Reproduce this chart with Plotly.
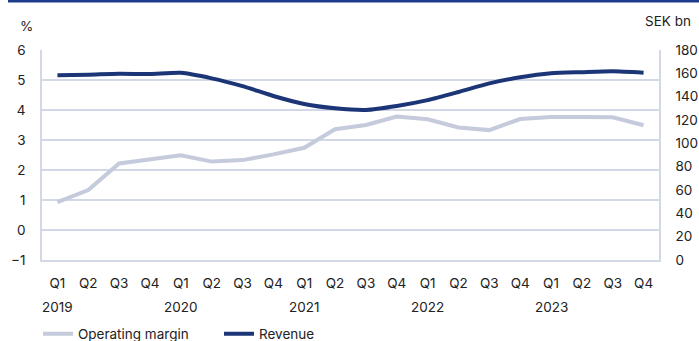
import plotly.graph_objects as go

quarters = ["Q1", "Q2", "Q3", "Q4"] * 5
years = ["2019", "2020", "2021", "2022", "2023"]

# Operating margin, % (left axis)
operating_margin = [0.93, 1.33, 2.22, 2.36, 2.49, 2.28, 2.33, 2.52, 2.74, 3.36,
                    3.50, 3.78, 3.69, 3.42, 3.33, 3.70, 3.77, 3.77, 3.76, 3.49]
# Revenue, SEK bn (right axis)
revenue = [158.3, 158.8, 159.6, 159.4, 160.4, 155.7, 149.0, 140.6, 133.7, 130.0,
           128.6, 132.0, 137.0, 144.0, 151.4, 156.6, 160.0, 161.0, 161.8, 160.6]

x = list(range(len(quarters)))

NAVY = "#1b3577"
LIGHT = "#c5cbdc"
GRID = "#d3d8e6"
TEXT = "#222222"
FONT = "Inter"
FS = 13.5

fig = go.Figure()
fig.add_trace(go.Scatter(
    x=x, y=operating_margin, name="Operating margin", mode="lines",
    line=dict(color=LIGHT, width=4), yaxis="y"))
fig.add_trace(go.Scatter(
    x=x, y=revenue, name="Revenue", mode="lines",
    line=dict(color=NAVY, width=4, shape="spline", smoothing=0.6), yaxis="y2"))

W, H = 699, 341
ml, mr, mt, mb = 42, 40, 50, 81
pw, ph = W - ml - mr, H - mt - mb

def px_to_paper_x(px):
    return (px - ml) / pw

def px_to_paper_y(py):
    return (H - mb - py) / ph

annotations = []
for i, yr in enumerate(years):
    annotations.append(dict(
        x=i * 4, y=px_to_paper_y(307), xref="x", yref="paper", text=yr,
        showarrow=False, font=dict(size=FS, color=TEXT, family=FONT),
        xanchor="center", yanchor="middle"))
annotations.append(dict(
    x=px_to_paper_x(26), y=px_to_paper_y(26), xref="paper", yref="paper", text="%",
    showarrow=False, font=dict(size=FS, color=TEXT, family=FONT),
    xanchor="center", yanchor="middle"))
annotations.append(dict(
    x=px_to_paper_x(693), y=px_to_paper_y(21), xref="paper", yref="paper", text="SEK bn",
    showarrow=False, font=dict(size=FS, color=TEXT, family=FONT),
    xanchor="right", yanchor="middle"))

fig.update_layout(
    width=W, height=H,
    margin=dict(l=ml, r=mr, t=mt, b=mb, autoexpand=False),
    paper_bgcolor="white", plot_bgcolor="white",
    font=dict(family=FONT, size=FS, color=TEXT),
    showlegend=True,
    legend=dict(orientation="h", x=px_to_paper_x(38), y=px_to_paper_y(334),
                xanchor="left", yanchor="middle", font=dict(size=FS, color=TEXT),
                entrywidth=136, entrywidthmode="pixels",
                itemwidth=30, tracegroupgap=0, bgcolor="rgba(0,0,0,0)"),
    xaxis=dict(range=[-0.5, 19.5], tickmode="array", tickvals=x, ticktext=quarters,
               showgrid=False, zeroline=False, showline=True, linecolor=GRID, linewidth=1.5,
               ticks="outside", ticklen=10, tickcolor="rgba(0,0,0,0)",
               tickfont=dict(size=FS, color=TEXT), fixedrange=True, automargin=False),
    yaxis=dict(range=[-1, 6], dtick=1, showgrid=True, gridcolor=GRID, gridwidth=1.5,
               zeroline=False, showline=True, linecolor=GRID, linewidth=1.5,
               ticks="outside", ticklen=12, tickcolor="rgba(0,0,0,0)",
               tickfont=dict(size=FS, color=TEXT), automargin=False),
    yaxis2=dict(range=[0, 180], dtick=20, overlaying="y", side="right",
                showgrid=False, zeroline=False, showline=True, linecolor=GRID, linewidth=1.5,
                ticks="outside", ticklen=12, tickcolor="rgba(0,0,0,0)",
                tickfont=dict(size=FS, color=TEXT), automargin=False),
    annotations=annotations,
    shapes=[dict(type="rect", xref="paper", yref="paper",
                 x0=px_to_paper_x(8), x1=px_to_paper_x(W), y0=px_to_paper_y(2.5), y1=px_to_paper_y(0),
                 fillcolor="#1e3c8c", line=dict(width=0), layer="above")],
)

fig.write_html("out.html")
